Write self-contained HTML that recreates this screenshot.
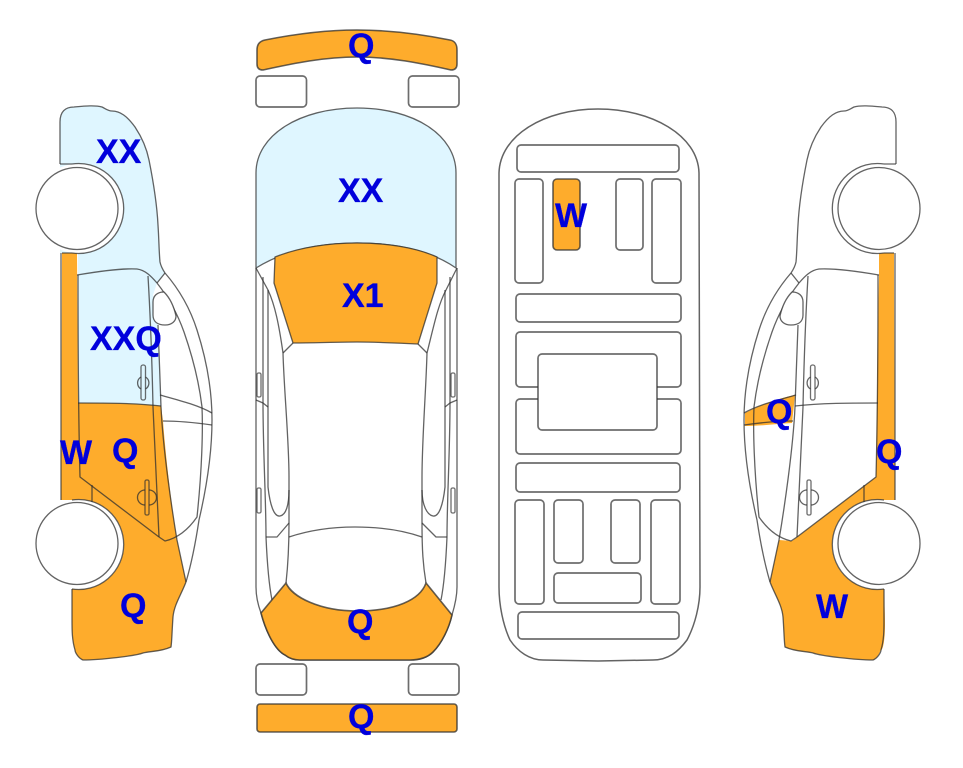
<!DOCTYPE html>
<html>
<head>
<meta charset="utf-8">
<style>
html,body{margin:0;padding:0;background:#fff}
svg{display:block}
.l{fill:none;stroke:#2f2f2f;stroke-opacity:.75;stroke-width:1.3;stroke-linejoin:round}
rect.l{stroke-width:1.7;stroke-opacity:.7}
.r{stroke:#2f2f2f;stroke-opacity:.75;stroke-width:1.6}
.w{fill:#fff}
.o{fill:#FEAC2C}
.b{fill:#DFF6FF}
text{font-family:"Liberation Sans",Arial,sans-serif;font-weight:bold;font-size:34px;fill:#0000DC;stroke:#0000DC;stroke-width:.3}
</style>
</head>
<body>
<svg width="963" height="768" viewBox="0 0 963 768" xmlns="http://www.w3.org/2000/svg">
<defs>
<g id="side">
<path class="l" d="M60 164V122C60 112 65 107 74 107C85 106 95 105 102 107C106 109 108 111 112 111C120 111 127 116 135 127C143 139 147 150 149 160C153 180 157 205 158 225C159 240 159 252 160 262C161 267 163 270 165 273"/>
<path class="l" d="M60 164H72M62 253H72"/>
<path class="l" d="M72 164A45 45 0 1 1 72 253"/>
<path class="l" d="M72 500A45 45 0 1 1 72 589"/>
<path class="l" d="M165 273C178 288 190 308 197 330C206 358 212 390 212 420C212 455 206 490 199 520C196 540 191 565 186 582"/>
<path class="l" d="M157 283C168 297 178 315 184 332C192 355 199 382 202 407C203 430 202 470 197 517C188 530 178 538 165 541L159 537"/>
<path class="l" d="M165 273L157 283"/>
<path class="l" d="M77 275C95 272 120 268 137 269C145 270 151 276 157 283"/>
<path class="l" d="M148 276C150 310 152 360 153 407L159 537"/>
<path class="l" d="M158 325C159 350 160 380 161 407C163 450 172 510 177 540L186 582"/>
<path class="l" d="M78 275C78 320 78 400 80 477L159 537"/>
<path class="l" d="M61 253V500M92 485V502"/>
<path class="l" d="M78 403C105 403 135 403 161 406"/>
<path class="l" d="M160 395C178 400 198 405 212 413M163 421C178 421 198 423 212 425"/>
<path class="l" d="M186 582C181 595 174 605 173 617C172 630 172 640 171 647C160 652 150 651 143 653C135 656 100 660 83 660C78 658 75 652 75 650C72 640 72 630 72 620V589"/>
<path class="l w" d="M164 292C157 292 153 296 153 302V315C153 322 158 325 165 325C172 325 176 321 176 316C174 307 170 298 164 292Z"/>
<rect class="l" x="141" y="365" width="4.500" height="35" rx="2" style="stroke-width:1.300"/>
<path class="l" d="M141 377A7 7 0 0 0 141 389M145.500 377A7 7 0 0 1 145.500 389"/>
<rect class="l" x="145" y="480" width="4" height="35" rx="1.500" style="stroke-width:1.300"/>
<path class="l" d="M145 490A7.500 7.500 0 0 0 145 505M149 490A7.500 7.500 0 0 1 149 505"/>
<circle class="w" cx="77" cy="208.500" r="41"/>
<circle class="l" cx="77" cy="208.500" r="41"/>
<circle class="w" cx="77" cy="543.500" r="41"/>
<circle class="l" cx="77" cy="543.500" r="41"/>
</g>
</defs>

<!-- left fills -->
<path class="b" d="M60 253V122C60 112 65 107 74 107C85 106 95 105 102 107C106 109 108 111 112 111C120 111 127 116 135 127C143 139 147 150 149 160C153 180 157 205 158 225C159 240 159 252 160 262C161 267 163 270 165 273L157 283L153 295L158 325L161 406L78 403V253Z"/>
<path class="o" d="M62 253H77L78 403C105 403 135 403 161 406L163 421C166 460 172 510 177 540L186 582C181 595 174 605 173 617C172 630 172 640 171 647C160 652 150 651 143 653C135 656 100 660 83 660C78 658 75 652 75 650C72 640 72 630 72 620V589L72 500H61Z"/>
<circle class="w" cx="79" cy="208.500" r="45"/>
<circle class="w" cx="79" cy="544.500" r="45"/>
<use href="#side"/>

<!-- right fills -->
<path class="o" d="M879 253H894L895 500H884V589C884 600 885 610 885 625C885 640 883 650 881 650C878 655 878 658 873 660C856 660 825 656 813 653C806 651 796 652 785 647C784 640 784 630 783 617C782 605 775 595 770 582L779 540L792 541L876 477C877 400 878 320 879 275Z"/>
<path class="o" d="M745 413C760 405 780 398 795 395L792 423C775 424 760 426 745 426Z"/>
<circle class="w" cx="877" cy="208.500" r="45"/>
<circle class="w" cx="877" cy="544.500" r="45"/>
<use href="#side" transform="translate(956 0) scale(-1 1)"/>

<!-- top view -->
<path class="o r" d="M257 50C257 44 260 41 265 40C295 34 325 30 357 30C390 30 420 34 450 40C455 41 457 44 457 50V64C457 68 455 70 451 70C420 63 390 57 357 57C325 57 295 63 263 70C259 70 257 68 257 64Z"/>
<rect class="l" x="256" y="76" width="50.500" height="31" rx="4"/>
<rect class="l" x="408.500" y="76" width="50.500" height="31" rx="4"/>
<path class="b" d="M256 268V173C256 135 300 108 357 108C414 108 456 135 456 173V268C430 250 395 243 357 243C320 243 285 250 256 268Z"/>
<path class="l" d="M256 268V173C256 135 300 108 357 108C414 108 456 135 456 173V268C430 250 395 243 357 243C320 243 285 250 256 268Z"/>
<path class="o l" d="M275 257C300 247 330 243 357 243C385 243 415 247 437 257L437 283L418 344C395 343 375 342 357 342C335 342 315 343 293 343L274 283Z"/>
<path class="l" d="M256 268V587C256 595 258 605 261 613C266 632 275 650 285 655C290 659 295 660 300 660H410C420 660 428 657 433 652C442 643 449 628 452 615C455 605 457 595 457 587V268"/>
<path class="l" d="M256 268L268 290C275 305 279 325 283 353C284 390 289 440 289 477V523C289 550 288 565 286 583"/>
<path class="l" d="M457 268L446 290C438 305 434 325 427 353C426 390 422 440 422 477V523C422 550 423 565 426 583"/>
<path class="l" d="M263 277V403C263 450 266 500 266 537C267 560 269 585 272 600"/>
<path class="l" d="M450 277V403C450 450 447 500 447 537C446 560 444 585 441 600"/>
<path class="l" d="M268 290V487C270 505 274 517 280 516C286 515 289 505 289 490"/>
<path class="l" d="M445 290V487C443 505 439 517 433 516C427 515 422 505 422 490"/>
<path class="l" d="M283 353L293 343M427 353L418 344"/>
<path class="l" d="M256 400L263 403L268 407M457 400L450 403L445 407"/>
<path class="l" d="M266 537H277L289 523M447 537H436L422 523"/>
<path class="l" d="M289 537C310 530 330 527 355 527C380 527 402 530 422 537"/>
<rect class="l" x="257" y="373" width="4" height="24" rx="1.500" style="stroke-width:1.300"/>
<rect class="l" x="257" y="488" width="4" height="25" rx="1.500" style="stroke-width:1.300"/>
<rect class="l" x="451" y="373" width="4" height="24" rx="1.500" style="stroke-width:1.300"/>
<rect class="l" x="451" y="488" width="4" height="25" rx="1.500" style="stroke-width:1.300"/>
<path class="o r" d="M261 613L286 583C292 597 320 611 357 611C395 611 420 600 426 583L452 615C449 628 442 643 433 652C428 657 420 660 410 660H300C295 660 290 659 285 655C275 650 266 632 261 613Z"/>
<rect class="l" x="256" y="664" width="50.500" height="31" rx="4"/>
<rect class="l" x="408.500" y="664" width="50.500" height="31" rx="4"/>
<rect class="o r" x="257" y="704" width="200" height="28" rx="3"/>

<!-- bottom view -->
<path class="l" d="M499 173C500 135 545 109 598 109C651 109 698 135 699 173L700 587C700 605 695 625 687 640C678 652 668 660 653 660L598 661L543 660C530 660 518 652 510 640C503 625 499 605 499 587Z" style="stroke-width:1.500"/>
<rect class="l" x="517" y="145" width="162" height="27" rx="4"/>
<rect class="l" x="515" y="179" width="28" height="104" rx="4"/>
<rect class="o r" x="553" y="179" width="27" height="71" rx="4"/>
<rect class="l" x="616" y="179" width="27" height="71" rx="4"/>
<rect class="l" x="652" y="179" width="29" height="104" rx="4"/>
<rect class="l" x="516" y="294" width="165" height="28" rx="4"/>
<rect class="l" x="516" y="332" width="165" height="55" rx="4"/>
<rect class="l" x="516" y="399" width="165" height="55" rx="4"/>
<rect class="l w" x="538" y="354" width="119" height="76" rx="4"/>
<rect class="l" x="516" y="463" width="164" height="29" rx="4"/>
<rect class="l" x="515" y="500" width="29" height="104" rx="4"/>
<rect class="l" x="554" y="500" width="29" height="63" rx="4"/>
<rect class="l" x="611" y="500" width="29" height="63" rx="4"/>
<rect class="l" x="651" y="500" width="29" height="104" rx="4"/>
<rect class="l" x="554" y="573" width="87" height="30" rx="4"/>
<rect class="l" x="518" y="612" width="161" height="27" rx="4"/>

<!-- labels -->
<text x="96" y="163">XX</text>
<text x="90" y="350">XXQ</text>
<text x="60" y="464">W</text>
<text x="112" y="462">Q</text>
<text x="120" y="617">Q</text>
<text x="348" y="57">Q</text>
<text x="338" y="202">XX</text>
<text x="342" y="307">X1</text>
<text x="347" y="633">Q</text>
<text x="348" y="728">Q</text>
<text x="555" y="227">W</text>
<text x="766" y="423">Q</text>
<text x="876" y="463">Q</text>
<text x="816" y="618">W</text>
</svg>
</body>
</html>
